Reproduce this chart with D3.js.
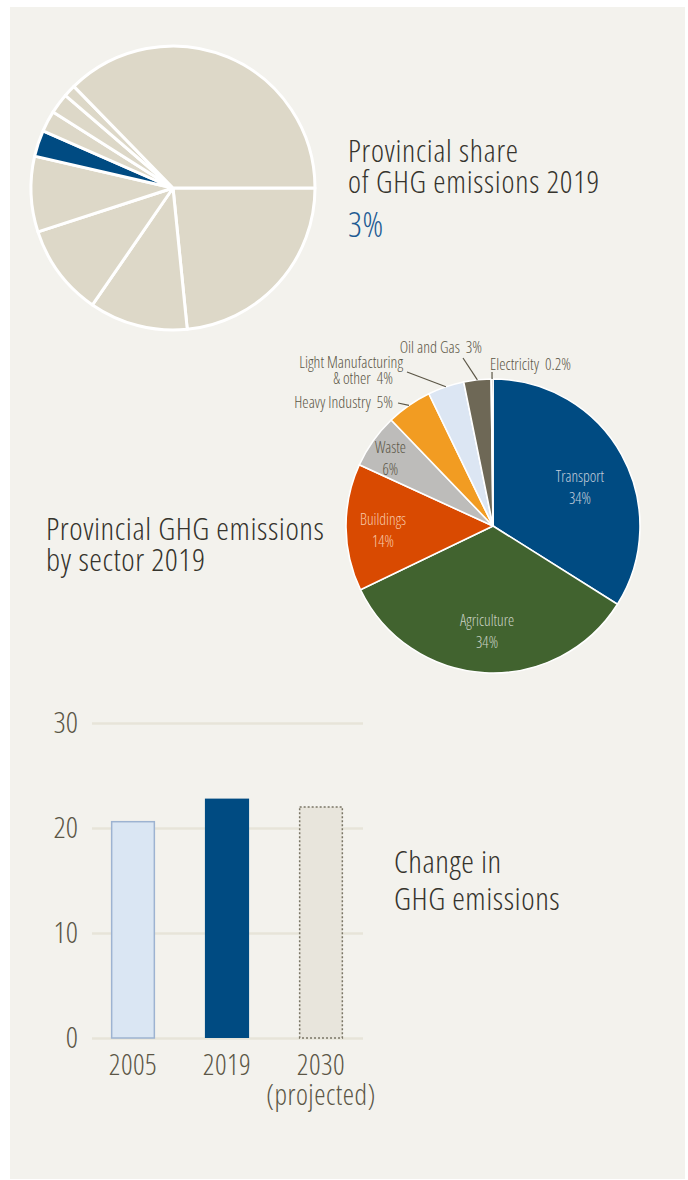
<!DOCTYPE html>
<html>
<head>
<meta charset="utf-8">
<script src="https://cdn.jsdelivr.net/npm/d3@7"></script>
<style>
  html, body { margin: 0; padding: 0; background: #ffffff; }
  svg { display: block; }
  text { font-family: "Open Sans", "Noto Sans", sans-serif; font-weight: 300; font-stretch: condensed; white-space: pre; }
</style>
</head>
<body>
<svg id="chart" width="688" height="1180"></svg>
<script>
// ---- Data ----------------------------------------------------------------
// Share of national GHG emissions by province, 2019 (%)
const provinces = ["Ontario", "Quebec", "Saskatchewan", "British Columbia", "Manitoba",
                   "Nova Scotia", "New Brunswick", "Newfoundland and Labrador", "Alberta"];
const provinceShare = [23.4, 11.2, 10.4, 8.6, 3.0, 2.4, 2.3, 1.4, 37.3];
const highlightProvince = "Manitoba";

// Provincial emissions by sector, 2019 (%)
const sectors = ["Transport", "Agriculture", "Buildings", "Waste", "Heavy Industry",
                 "Light Manufacturing & other", "Oil and Gas", "Electricity"];
const sectorShare = [34, 34, 14, 6, 5, 4, 3, 0.2];

// Total emissions (Mt CO2e)
const years = ["2005", "2019", "2030"];
const yearLabels = [["2005"], ["2019"], ["2030", "(projected)"]];
const emissions = [20.6, 22.8, 22.0];
const yTicks = [0, 10, 20, 30];

// ---- Styling -------------------------------------------------------------
const sectorColors = {
  "Transport": "#004b82",
  "Agriculture": "#41632f",
  "Buildings": "#d94a01",
  "Waste": "#bdbcba",
  "Heavy Industry": "#f29c22",
  "Light Manufacturing & other": "#dce6f3",
  "Oil and Gas": "#6e6856",
  "Electricity": "#6e6856"
};
const inLabelColors = {
  "Transport": "#c3cfdc",
  "Agriculture": "#c9d1c2",
  "Buildings": "#f8c8a6",
  "Waste": "#5b5646"
};
// offsets from the arc centroid for the in-slice labels
const inLabelNudge = {
  "Transport": [-5, 15],
  "Agriculture": [0, 3],
  "Buildings": [-5, 6],
  "Waste": [-17, -4]
};
// callout labels placed outside the pie: text lines, anchor, elbow point
const callouts = {
  "Electricity":  { lines: ["Electricity  0.2%"], x: 490, y: 370, anchor: "start", lx: 492, ly: 372 },
  "Oil and Gas":  { lines: ["Oil and Gas  3%"], x: 482, y: 353, anchor: "end", lx: 463, ly: 358 },
  "Light Manufacturing & other": { lines: ["Light Manufacturing", "& other  4%"], x: 403, y: 368, anchor: "end", lx: 407, ly: 372, dx2: -10 },
  "Heavy Industry": { lines: ["Heavy Industry  5%"], x: 393, y: 408, anchor: "end", lx: 398, ly: 403 }
};

const ink = "#36342d";
const muted = "#5b5646";
const blue = "#004b82";

const svg = d3.select("#chart");

// panel background
svg.append("rect").attr("x", 10).attr("y", 7).attr("width", 675).attr("height", 1172)
  .attr("fill", "#f3f2ed");

// ---- Provincial share pie -----------------------------------------------
{
  const cx = 173, cy = 188, r = 142;
  const pie = d3.pie().sort(null).value(d => d.v)
    .startAngle(Math.PI / 2).endAngle(Math.PI / 2 + 2 * Math.PI);
  const arc = d3.arc().innerRadius(0).outerRadius(r);
  const data = provinces.map((p, i) => ({ name: p, v: provinceShare[i] }));
  const g = svg.append("g").attr("transform", `translate(${cx},${cy})`);
  g.selectAll("path").data(pie(data)).join("path")
    .attr("d", arc)
    .attr("fill", d => d.data.name === highlightProvince ? blue : "#ddd8c8")
    .attr("stroke", "#ffffff")
    .attr("stroke-width", 3)
    .attr("stroke-linejoin", "round");

  const t = svg.append("g").attr("transform", "translate(348,0)")
    .attr("letter-spacing", 0.75);
  t.append("text").attr("y", 162).attr("font-size", 31).attr("fill", ink).text("Provincial share");
  t.append("text").attr("y", 193).attr("font-size", 31).attr("fill", ink).text("of GHG emissions 2019");
  const hv = provinceShare[provinces.indexOf(highlightProvince)];
  t.append("text").attr("y", 237).attr("font-size", 34).attr("fill", "#1d5b93").text(d3.format(".0f")(hv) + "%");
}

// ---- Sector pie ----------------------------------------------------------
{
  const cx = 493, cy = 526, r = 147;
  const pie = d3.pie().sort(null).value(d => d.v);
  const arc = d3.arc().innerRadius(0).outerRadius(r);
  const labelArc = d3.arc().innerRadius(105).outerRadius(105);
  const edgeArc = d3.arc().innerRadius(r).outerRadius(r);
  const data = sectors.map((s, i) => ({ name: s, v: sectorShare[i] }));
  const arcs = pie(data);
  const g = svg.append("g").attr("transform", `translate(${cx},${cy})`);
  g.selectAll("path").data(arcs).join("path")
    .attr("d", arc)
    .attr("fill", d => sectorColors[d.data.name])
    .attr("stroke", "#ffffff")
    .attr("stroke-width", 1.6);

  // in-slice labels
  arcs.filter(d => inLabelColors[d.data.name]).forEach(d => {
    const [x, y] = labelArc.centroid(d);
    const [nx, ny] = inLabelNudge[d.data.name];
    const txt = g.append("text")
      .attr("text-anchor", "middle")
      .attr("font-size", 15.5)
      .attr("fill", inLabelColors[d.data.name]);
    txt.append("tspan").attr("x", x + nx).attr("y", y + ny - 8).text(d.data.name);
    txt.append("tspan").attr("x", x + nx).attr("y", y + ny + 14).text(d.data.v + "%");
  });

  // callouts
  arcs.filter(d => callouts[d.data.name]).forEach(d => {
    const c = callouts[d.data.name];
    const [ex, ey] = edgeArc.centroid(d);
    svg.append("line")
      .attr("x1", c.lx).attr("y1", c.ly)
      .attr("x2", cx + ex).attr("y2", cy + ey)
      .attr("stroke", muted).attr("stroke-width", 1.2);
    const txt = svg.append("text").attr("font-size", 16).attr("fill", muted)
      .attr("text-anchor", c.anchor);
    c.lines.forEach((line, i) => {
      txt.append("tspan").attr("x", c.x + (i > 0 ? (c.dx2 || 0) : 0)).attr("y", c.y + i * 16).text(line);
    });
  });

  const t = svg.append("g").attr("transform", "translate(46,0)")
    .attr("letter-spacing", 0.55);
  t.append("text").attr("y", 540).attr("font-size", 32).attr("fill", ink).text("Provincial GHG emissions");
  t.append("text").attr("y", 571).attr("font-size", 32).attr("fill", ink).text("by sector 2019");
}

// ---- Emissions change bars ----------------------------------------------
{
  const x0 = 92, x1 = 363;
  const y = d3.scaleLinear().domain([0, 30]).range([1038, 723]);
  const x = d3.scaleBand().domain(years).range([86, 368]).paddingInner(0.53).paddingOuter(0.265);

  const yAxis = svg.append("g").attr("transform", `translate(${x0},0)`)
    .call(d3.axisLeft(y).tickValues(yTicks).tickSize(-(x1 - x0)).tickPadding(14).tickFormat(d3.format("d")));
  yAxis.select(".domain").remove();
  yAxis.selectAll(".tick line").attr("stroke", "#e7e4d9").attr("stroke-width", 2.5);
  yAxis.selectAll(".tick text").attr("font-size", 30).attr("fill", muted)
    .attr("font-family", null);

  const styles = [
    { fill: "#dae6f3", stroke: "#9db3d1", dash: null },
    { fill: blue, stroke: "none", dash: null },
    { fill: "#e8e5dc", stroke: "#7a7565", dash: "2,2" }
  ];
  svg.selectAll("rect.bar").data(years).join("rect")
    .attr("class", "bar")
    .attr("x", (d, i) => x(d) + (styles[i].stroke !== "none" ? 0.75 : 0))
    .attr("width", (d, i) => x.bandwidth() - (styles[i].stroke !== "none" ? 1.5 : 0))
    .attr("y", (d, i) => y(emissions[i]))
    .attr("height", (d, i) => y(0) - y(emissions[i]))
    .attr("fill", (d, i) => styles[i].fill)
    .attr("stroke", (d, i) => styles[i].stroke)
    .attr("stroke-width", 1.5)
    .attr("stroke-dasharray", (d, i) => styles[i].dash);

  const xAxis = svg.append("g").attr("transform", "translate(0,1038)")
    .call(d3.axisBottom(x).tickSize(0).tickPadding(0).tickFormat(() => ""));
  xAxis.select(".domain").remove();
  xAxis.selectAll(".tick text").each(function (d, i) {
    const t = d3.select(this).attr("y", null).attr("dy", null)
      .attr("font-size", 28.5).attr("fill", muted).attr("font-family", null)
      .attr("letter-spacing", 0.5);
    yearLabels[i].forEach((line, j) => {
      t.append("tspan").attr("x", 0).attr("y", 37 + j * 30).text(line);
    });
  });

  const t = svg.append("g").attr("transform", "translate(394,0)")
    .attr("letter-spacing", 0.55);
  t.append("text").attr("y", 873).attr("font-size", 32).attr("fill", ink).text("Change in");
  t.append("text").attr("y", 910).attr("font-size", 32).attr("fill", ink).text("GHG emissions");
}
</script>
</body>
</html>
